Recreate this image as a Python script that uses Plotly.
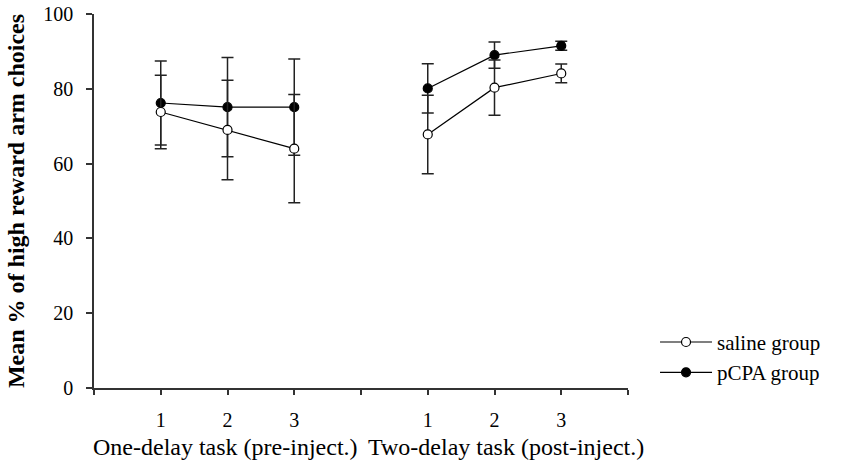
import plotly.graph_objects as go

# Data
group1_x = [1, 2, 3]
group2_x = [5, 6, 7]
saline_mean = [73.8, 69.0, 64.0, 67.8, 80.3, 84.1]
saline_err = [9.8, 13.3, 14.5, 10.5, 7.4, 2.5]
pcpa_mean = [76.2, 75.1, 75.1, 80.1, 89.0, 91.5]
pcpa_err = [11.2, 13.3, 12.9, 6.6, 3.5, 1.2]
tick_vals = [0, 1, 2, 3, 4, 5, 6, 7, 8]
tick_text = ["", "1", "2", "3", "", "1", "2", "3", ""]
task_labels = ["One-delay task (pre-inject.)", "Two-delay task (post-inject.)"]
task_label_start = [-0.05, 4.08]  # in x-axis units (left edge of label)

FONT = "Liberation Serif, Times New Roman, serif"
X_RANGE = [0, 8]

fig = go.Figure()

def add_series(name, means, errs, fill, rank):
    for gi, xs in enumerate([group1_x, group2_x]):
        sl = slice(gi * 3, gi * 3 + 3)
        fig.add_trace(go.Scatter(
            x=xs, y=means[sl], name=name, legendgroup=name,
            showlegend=(gi == 0), legendrank=rank,
            mode="lines+markers",
            line=dict(color="black", width=1.2),
            marker=dict(symbol="circle", size=9, color=fill,
                        line=dict(color="black", width=1.2)),
            error_y=dict(type="data", array=errs[sl], visible=True,
                         color="#222", thickness=1.5, width=6),
        ))

add_series("pCPA group", pcpa_mean, pcpa_err, "black", 2)
add_series("saline group", saline_mean, saline_err, "white", 1)

plot_top, plot_bottom = 14, 388
label_y_px = 447
for lbl, xpos in zip(task_labels, task_label_start):
    fig.add_annotation(x=(xpos - X_RANGE[0]) / (X_RANGE[1] - X_RANGE[0]), xref="paper",
                       y=(plot_bottom - label_y_px) / (plot_bottom - plot_top),
                       yref="paper", yanchor="middle", xanchor="left",
                       showarrow=False, text=lbl,
                       font=dict(family=FONT, size=24, color="black"))

fig.update_layout(
    width=859, height=469,
    margin=dict(l=94, r=231, t=14, b=81, autoexpand=False),
    paper_bgcolor="white", plot_bgcolor="white",
    font=dict(family=FONT, size=20, color="black"),
    showlegend=True,
    legend=dict(x=1.0506, xanchor="left", y=0.082, yanchor="middle",
                font=dict(family=FONT, size=21, color="black"),
                bgcolor="rgba(0,0,0,0)", itemwidth=52, tracegroupgap=0),
    xaxis=dict(range=X_RANGE, tickvals=tick_vals, ticktext=tick_text,
               showline=True, linecolor="#333", linewidth=1.5,
               ticks="outside", ticklen=5, tickwidth=1.5, tickcolor="#333",
               showgrid=False, zeroline=False, fixedrange=True, automargin=False,
               tickfont=dict(size=20), ticklabelstandoff=8),
    yaxis=dict(range=[0, 100], tickvals=[0, 20, 40, 60, 80, 100],
               showline=True, linecolor="#333", linewidth=1.5,
               ticks="outside", ticklen=6, tickwidth=1.5, tickcolor="#333",
               showgrid=False, zeroline=False, fixedrange=True, automargin=False,
               tickfont=dict(size=20), ticklabelstandoff=9,
               title=dict(text="<b>Mean % of high reward arm choices</b>",
                          font=dict(family=FONT, size=24), standoff=12)),
)

fig.write_html("out.html")
